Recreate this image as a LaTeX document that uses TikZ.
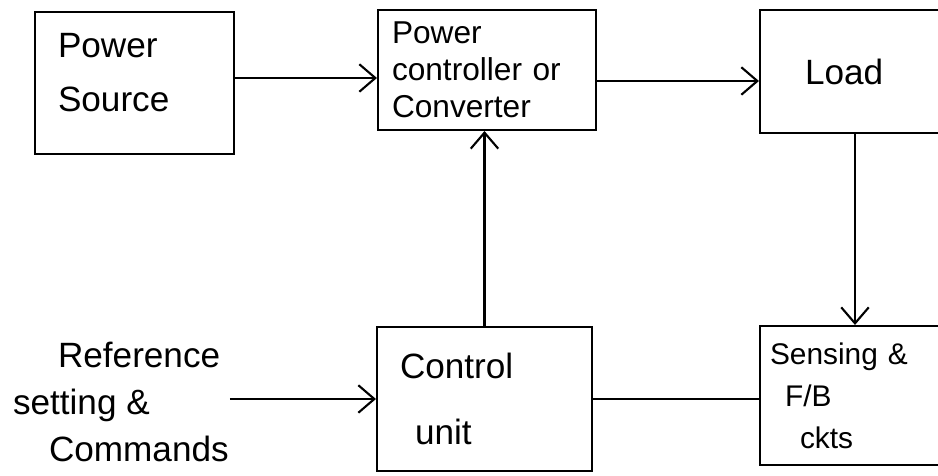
\documentclass[tikz,border=0pt]{standalone}
\usepackage{fontspec}
\setmainfont{Liberation Sans}
\usetikzlibrary{arrows.meta}

\begin{document}
\begin{tikzpicture}[x=0.02cm, y=-0.02cm, line width=1.2pt,
  >={Straight Barb[length=3.2mm,width=5.5mm]},
  block_node/.style={draw, rectangle, align=left, inner sep=0pt}]

  \useasboundingbox (0,0) rectangle (938,476);

  % top row
  \node[block_node, minimum width=3.98cm, minimum height=2.84cm, text width=3.06cm,
        font=\fontsize{20}{31}\selectfont] (source) at (134.5,83) {Power\\Source\\[-19pt]\mbox{}};
  \node[block_node, minimum width=4.36cm, minimum height=2.4cm, text width=3.8cm,
        font=\fontsize{18}{21}\selectfont] (conv) at (487,70) {Power\\controller or\\Converter};
  \node[block_node, minimum width=3.8cm, minimum height=2.46cm, text width=2cm,
        font=\fontsize{20}{24}\selectfont] (load) at (855,71.5) {Load};

  % bottom row
  \node[block_node, minimum width=4.3cm, minimum height=2.88cm, text width=3.38cm,
        font=\fontsize{20}{37.5}\selectfont] (ctrl) at (484.5,399) {Control\\\hspace*{0.3cm}unit};
  \node[block_node, minimum width=3.8cm, minimum height=2.78cm, text width=3.4cm,
        font=\fontsize{17}{24}\selectfont] (sense) at (855,395.5) {Sensing \&\\\hspace*{0.3cm}F/B\\\hspace*{0.6cm}ckts};
  \node[align=left, anchor=west, inner sep=0pt,
        font=\fontsize{20}{27}\selectfont] (ref) at (12,402)
        {\hspace*{0.9cm}Reference\\setting \&\\\hspace*{0.72cm}Commands};

  \coordinate (src_out) at ([yshift=0.1cm]source.east);
  \coordinate (conv_out) at ([yshift=-0.22cm]conv.east);

  \path[->]
  (src_out) edge (src_out -| conv.west)
  (conv_out) edge (conv_out -| load.west)
  (load.south) edge (sense.north)
  (ctrl.north) edge (ctrl.north |- conv.south)
  (ref.east |- ctrl.west) edge (ctrl.west);

  \draw (ctrl.east) -- (ctrl.east -| sense.west);
\end{tikzpicture}
\end{document}
